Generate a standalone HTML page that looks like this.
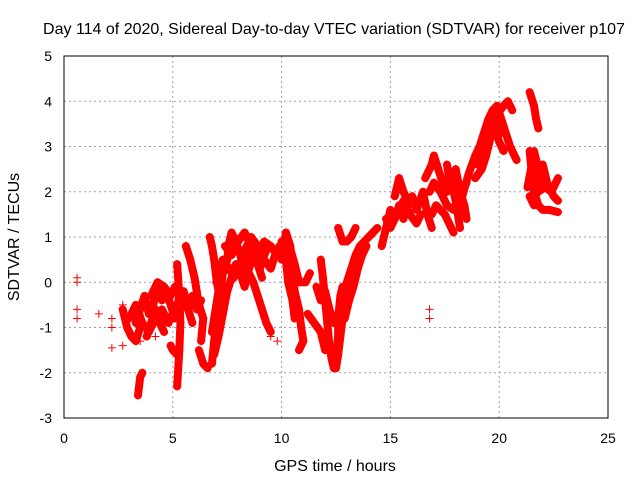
<!DOCTYPE html>
<html><head><meta charset="utf-8"><style>
html,body{margin:0;padding:0;background:#fff}
svg{display:block;font-family:"Liberation Sans",sans-serif}
</style></head><body>
<svg id="chart" width="640" height="480">
<rect width="640" height="480" fill="#fff"/>
<text x="334" y="34" text-anchor="middle" font-size="16">Day 114 of 2020, Sidereal Day-to-day VTEC variation (SDTVAR) for receiver p107</text>
<g id="grid"></g>
<g id="ticks"></g>
<g id="marks"></g>
<rect x="64" y="56" width="544" height="362" fill="none" stroke="#000" stroke-width="1"/>
<text x="335" y="471" text-anchor="middle" font-size="16">GPS time / hours</text>
<text transform="translate(19,237) rotate(-90)" text-anchor="middle" font-size="16">SDTVAR / TECUs</text>
</svg>
<script>
const xTicks=[0,5,10,15,20,25];
const yTicks=[-3,-2,-1,0,1,2,3,4,5];
const isolated=[[0.6,0.1],[0.6,0],[0.6,-0.6],[0.6,-0.8],[1.6,-0.7],[2.2,-0.8],[2.2,-1.0],[2.2,-1.45],[2.7,-0.5],[2.7,-1.4],[16.8,-0.8],[16.8,-0.6],[9.5,-1.2],[9.8,-1.3],[3.5,-1.3],[4.2,-1.2]];
const tracks=[
[[2.7,-0.6],[2.9,-1.0],[3.1,-1.2],[3.3,-1.3],[3.5,-1.0]],
[[3.3,-0.9],[3.5,-0.6],[3.7,-0.3],[3.9,-0.7],[4.1,-0.5],[4.3,-0.1],[4.5,-0.4],[4.7,-0.2],[4.9,-0.5],[5.1,-0.8],[5.3,-0.3],[5.5,-0.2],[5.7,-0.6],[5.9,-0.9]],
[[3.0,-0.8],[3.3,-0.5],[3.6,-0.9],[3.9,-1.1],[4.2,-0.8],[4.5,-0.6],[4.8,-0.9],[5.0,-0.7]],
[[3.4,-2.5],[3.5,-2.1],[3.6,-2.0]],
[[3.8,-1.2],[4.0,-0.9],[4.2,-0.6],[4.4,-0.9],[4.6,-1.1]],
[[4.0,-0.3],[4.3,0.0],[4.6,-0.1],[4.9,-0.3],[5.1,-0.1]],
[[4.9,-1.4],[5.0,-1.5],[5.2,-1.6]],
[[5.2,0.4],[5.3,-0.3],[5.35,-0.9],[5.3,-1.5],[5.2,-2.3]],
[[5.6,0.8],[5.8,0.5],[6.0,0.1],[6.2,-0.5],[6.4,-0.8],[6.3,-1.3]],
[[5.5,-0.3],[5.7,-0.6],[5.9,-0.3],[6.1,-0.6],[6.3,-0.4]],
[[6.2,-1.5],[6.4,-1.8],[6.6,-1.9]],
[[6.8,-1.8],[6.9,-1.3],[7.0,-0.9],[7.1,-0.5],[7.2,-0.2],[7.3,0.2],[7.5,0.5],[7.6,0.9],[7.7,1.1],[7.9,0.9],[8.1,0.6],[8.3,0.3],[8.5,0.2],[8.7,0.0],[8.9,-0.3],[9.1,-0.6],[9.3,-0.9],[9.5,-1.1]],
[[6.7,1.0],[6.8,0.8],[6.9,0.5],[7.0,0.1],[7.1,-0.2],[7.0,-0.5],[6.9,-0.8],[6.8,-1.1]],
[[6.9,-1.6],[7.1,-1.2],[7.3,-0.7],[7.5,-0.2],[7.7,0.1],[7.9,0.4],[8.1,0.2],[8.3,-0.1],[8.5,0.3],[8.7,0.6],[8.9,0.4],[9.1,0.1]],
[[7.0,0.0],[7.3,0.5],[7.6,0.3],[7.8,0.1],[8.0,0.3],[8.3,0.7],[8.6,1.0],[8.9,0.8],[9.2,0.5],[9.5,0.3],[9.7,0.6],[9.9,0.8],[10.1,0.5]],
[[7.4,0.8],[7.7,0.6],[8.0,0.9],[8.3,1.1],[8.6,0.8],[8.9,0.6],[9.2,0.9],[9.5,0.8],[9.8,0.6]],
[[9.4,0.8],[9.2,0.6],[9.0,0.3],[8.8,0.5],[8.6,0.7],[8.4,0.4],[8.2,0.2]],
[[10.0,0.5],[10.2,1.1],[10.4,0.8],[10.5,0.3],[10.6,-0.2],[10.8,-0.6],[10.9,-1.0],[11.0,-1.3],[10.8,-1.5]],
[[10.0,0.9],[10.2,0.5],[10.3,0.0],[10.5,-0.4],[10.6,-0.8]],
[[10.3,0.9],[10.6,0.4],[10.8,0.0],[11.1,0.0],[11.3,0.2]],
[[11.8,0.5],[11.9,0.1],[12.0,-0.4],[12.1,-0.9],[12.2,-1.4],[12.3,-1.7],[12.4,-1.9]],
[[11.2,-0.7],[11.5,-0.9],[11.8,-1.1],[12.0,-1.5]],
[[11.6,-0.1],[11.8,-0.4],[12.0,-0.2],[12.2,-0.6],[12.4,-0.9]],
[[12.5,-1.9],[12.6,-1.6],[12.7,-1.2],[12.8,-0.8],[12.9,-0.3],[13.0,0.0],[13.2,0.3],[13.4,0.6],[13.6,0.8],[13.8,0.9],[14.0,1.0],[14.2,1.1],[14.4,1.2]],
[[12.9,-0.8],[13.1,-0.4],[13.3,-0.1],[13.5,0.3],[13.7,0.6],[13.9,0.8]],
[[12.5,-1.6],[12.6,-1.2],[12.6,-0.8],[12.7,-0.3],[12.8,-0.1]],
[[12.6,1.2],[12.8,0.9],[13.0,0.9],[13.2,1.0],[13.4,1.2]],
[[14.6,0.8],[14.8,1.2],[15.0,1.6],[15.2,1.4],[15.4,1.7],[15.6,1.4],[15.8,1.7],[16.0,1.9],[16.2,1.6],[16.5,2.0],[16.7,1.5],[16.9,1.2]],
[[14.8,1.4],[15.0,1.2],[15.3,1.5],[15.6,1.8],[15.9,1.5],[16.2,1.3],[16.4,1.5]],
[[15.2,1.9],[15.4,2.3],[15.6,2.0],[15.8,1.8]],
[[16.6,2.3],[16.9,2.6],[17.0,2.8],[17.2,2.5],[17.4,2.2],[17.6,2.0],[17.8,2.2],[18.0,2.5],[18.2,2.0],[18.4,1.7],[18.5,1.4]],
[[16.9,1.5],[17.1,1.7],[17.3,1.6],[17.5,1.5],[17.7,1.3],[17.9,1.1]],
[[16.8,2.0],[17.0,2.2],[17.3,2.0],[17.6,1.7],[17.9,1.6],[18.2,1.9],[18.5,2.2]],
[[17.6,2.6],[17.7,2.3],[17.9,2.0],[18.0,1.8],[18.1,1.5],[18.2,1.2]],
[[18.3,1.9],[18.6,2.4],[18.9,2.8],[19.1,3.0],[19.3,3.3],[19.5,3.6],[19.7,3.8],[19.9,3.9],[20.1,3.6],[20.3,3.3],[20.5,3.0],[20.8,2.7]],
[[18.9,2.3],[19.2,2.5],[19.4,2.8],[19.6,3.2],[19.8,3.4],[20.0,3.1],[20.2,2.9]],
[[19.0,2.6],[19.3,2.9],[19.5,3.0],[19.7,3.5],[19.9,3.6],[20.1,3.3]],
[[19.9,3.7],[20.2,3.9],[20.4,4.0],[20.6,3.8]],
[[21.4,4.2],[21.6,3.9],[21.7,3.6],[21.8,3.4]],
[[21.4,2.9],[21.5,2.4],[21.6,2.0],[21.8,1.7],[22.0,1.6],[22.3,1.6],[22.7,1.55]],
[[21.5,2.8],[21.6,2.3],[21.8,2.0],[22.1,2.1],[22.4,2.0],[22.7,2.3]],
[[21.3,2.1],[21.5,2.6],[21.6,2.9],[21.8,2.5],[22.0,2.2]],
[[21.4,1.9],[21.6,1.7],[21.8,2.2],[22.0,2.6],[22.2,2.2],[22.5,1.9],[22.7,1.8]]
];
const NS='http://www.w3.org/2000/svg';
const X=t=>64+t*(544/25);
const Y=v=>418-(v+3)*(362/8);
function mk(tag,parent){const e=document.createElementNS(NS,tag);parent.appendChild(e);return e;}
const grid=document.getElementById('grid'),ticks=document.getElementById('ticks'),marks=document.getElementById('marks');
xTicks.forEach(t=>{
  const x=X(t);
  if(t>0&&t<25){const g=mk('line',grid);g.setAttribute('x1',x);g.setAttribute('x2',x);g.setAttribute('y1',56);g.setAttribute('y2',418);g.setAttribute('stroke','#a0a0a0');g.setAttribute('stroke-dasharray','2,3');
  
  }
  const l=mk('text',ticks);l.setAttribute('x',x);l.setAttribute('y',443);l.setAttribute('text-anchor','middle');l.setAttribute('font-size','14');l.textContent=t;
  
  
});
yTicks.forEach(v=>{
  const y=Y(v);
  if(v>-3&&v<5){const g=mk('line',grid);g.setAttribute('x1',64);g.setAttribute('x2',608);g.setAttribute('y1',y);g.setAttribute('y2',y);g.setAttribute('stroke','#a0a0a0');g.setAttribute('stroke-dasharray','2,3');
  
  }
  const l=mk('text',ticks);l.setAttribute('x',52);l.setAttribute('y',y+5);l.setAttribute('text-anchor','end');l.setAttribute('font-size','14');l.textContent=v;
  
  
});
function plus(t,v){
  const p=mk('path',marks);const x=X(t),y=Y(v);
  p.setAttribute('d',`M${x-4},${y}H${x+4}M${x},${y-4}V${y+4}`);p.setAttribute('stroke','#f00');p.setAttribute('stroke-width','1');
  
  
}
tracks.forEach(tr=>{
  const pl=mk('polyline',marks);
  pl.setAttribute('points',tr.map(p=>X(p[0])+','+Y(p[1])).join(' '));
  pl.setAttribute('fill','none');pl.setAttribute('stroke','#f00');pl.setAttribute('stroke-width','8');pl.setAttribute('stroke-linejoin','round');pl.setAttribute('stroke-linecap','round');
  
  
  tr.forEach(p=>plus(p[0],p[1]));
});
isolated.forEach(p=>plus(p[0],p[1]));
</script>
</body></html>
